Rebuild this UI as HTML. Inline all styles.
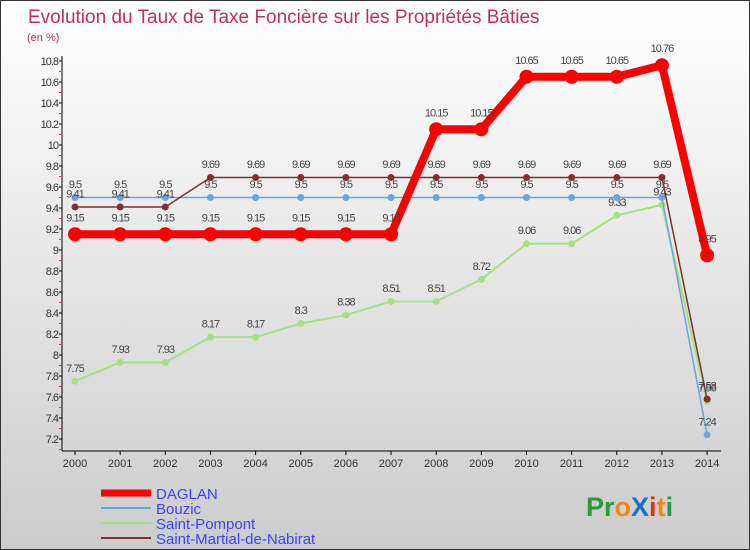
<!DOCTYPE html>
<html><head><meta charset="utf-8"><style>
body{margin:0}
#c{width:748px;height:548px;border:1px solid #333;background:linear-gradient(#fff,#ccc);position:relative;font-family:"Liberation Sans",sans-serif;overflow:hidden}
text{font-family:"Liberation Sans",sans-serif}
</style></head><body>
<div id="c">
<svg id="s" width="748" height="548">
<text x="27" y="22" font-size="19" fill="#c0305a">Evolution du Taux de Taxe Foncière sur les Propriétés Bâties</text>
<text x="26" y="40" font-size="11" fill="#c0305a">(en %)</text>
<g id="axes"></g><g id="series"></g>
<g>
<line x1="100" y1="492" x2="150" y2="492" stroke="#f00" stroke-width="7"/>
<text x="155" y="498" font-size="15" fill="#4040ff">DAGLAN</text>
<line x1="100" y1="507" x2="150" y2="507" stroke="#6aa6d8" stroke-width="2"/>
<text x="155" y="513" font-size="15" fill="#4040ff">Bouzic</text>
<line x1="100" y1="522" x2="150" y2="522" stroke="#a6e080" stroke-width="2"/>
<text x="155" y="528" font-size="15" fill="#4040ff">Saint-Pompont</text>
<line x1="100" y1="537" x2="150" y2="537" stroke="#803030" stroke-width="2"/>
<text x="155" y="543" font-size="15" fill="#4040ff">Saint-Martial-de-Nabirat</text>
</g>
<text x="585" y="515" font-size="27" font-weight="bold"><tspan fill="#2a9a3a">Pr</tspan><tspan fill="#f08a10">o</tspan><tspan fill="#1a70c8">X</tspan><tspan fill="#e03010">i</tspan><tspan fill="#f08a10">t</tspan><tspan fill="#2a9a3a">i</tspan></text>
</svg></div>
<script>
const years=[2000,2001,2002,2003,2004,2005,2006,2007,2008,2009,2010,2011,2012,2013,2014];
const yTicks=[7.2,7.4,7.6,7.8,8,8.2,8.4,8.6,8.8,9,9.2,9.4,9.6,9.8,10,10.2,10.4,10.6,10.8];
const daglan=[9.15,9.15,9.15,9.15,9.15,9.15,9.15,9.15,10.15,10.15,10.65,10.65,10.65,10.76,8.95];
const bouzic=[9.5,9.5,9.5,9.5,9.5,9.5,9.5,9.5,9.5,9.5,9.5,9.5,9.5,9.5,7.24];
const pompont=[7.75,7.93,7.93,8.17,8.17,8.3,8.38,8.51,8.51,8.72,9.06,9.06,9.33,9.43,7.56];
const martial=[9.41,9.41,9.41,9.69,9.69,9.69,9.69,9.69,9.69,9.69,9.69,9.69,9.69,9.69,7.58];
const NS="http://www.w3.org/2000/svg";
const X=i=>74+i*45.15, Y=v=>438-(v-7.2)/0.2*21;
function mk(t,a,p){const e=document.createElementNS(NS,t);for(const k in a)e.setAttribute(k,a[k]);p.appendChild(e);return e;}
const ax=document.getElementById('axes'), sg=document.getElementById('series');
const yl=mk('line',{x1:61,y1:55,x2:61,y2:450,stroke:'#000'},ax);


const xl=mk('line',{x1:61,y1:450,x2:720,y2:450,stroke:'#000'},ax);


yTicks.forEach(v=>{
 mk('line',{x1:58,y1:Y(v),x2:61,y2:Y(v),stroke:'#000'},ax);
 mk('line',{x1:58,y1:Y(v)+10.5,x2:60,y2:Y(v)+10.5,stroke:'#e33'},ax);
 const t=mk('text',{x:57,y:Y(v)+4,'text-anchor':'end','font-size':11,fill:'#333','letter-spacing':'-1'},ax);t.textContent=String(v);
 
 
});
years.forEach((yr,i)=>{
 mk('line',{x1:X(i),y1:450,x2:X(i),y2:454,stroke:'#000'},ax);
 const t=mk('text',{x:X(i),y:466,'text-anchor':'middle','font-size':11,fill:'#333'},ax);t.textContent=yr;
 
 
});
function series(vals,color,w,r,name,labels){
 const pl=mk('polyline',{points:vals.map((v,i)=>X(i)+','+Y(v)).join(' '),fill:'none',stroke:color,'stroke-width':w,'stroke-linejoin':'round'},sg);
 
 
 vals.forEach((v,i)=>{
  const c=mk('circle',{cx:X(i),cy:Y(v),r:r,fill:color},sg);
  
  
  const t=mk('text',{x:X(i),y:Y(v)-r-6,'text-anchor':'middle','font-size':11,fill:'#444','letter-spacing':'-1'},sg);t.textContent=String(v);
  
  
 });
}
series(pompont,'#a6e080',2,3.5,'saint-pompont');
series(bouzic,'#6aa6d8',1.5,3.5,'bouzic');
series(martial,'#803030',1.5,3.5,'saint-martial');
series(daglan,'#f00',8,7,'daglan');
</script>
</body></html>
